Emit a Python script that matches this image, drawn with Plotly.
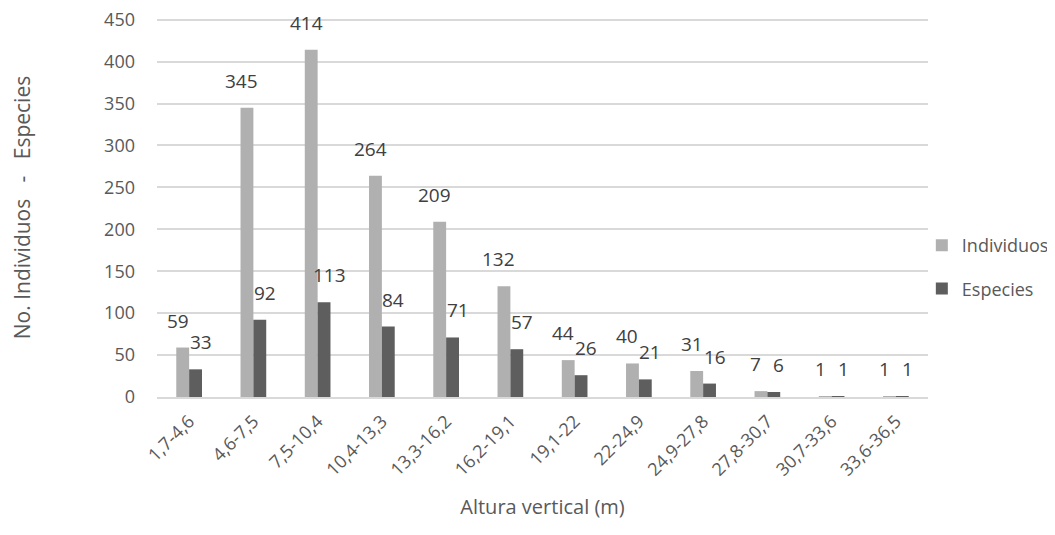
import plotly.graph_objects as go

categories = ["1,7-4,6", "4,6-7,5", "7,5-10,4", "10,4-13,3", "13,3-16,2", "16,2-19,1",
              "19,1-22", "22-24,9", "24,9-27,8", "27,8-30,7", "30,7-33,6", "33,6-36,5"]
individuos = [59, 345, 414, 264, 209, 132, 44, 40, 31, 7, 1, 1]
especies = [33, 92, 113, 84, 71, 57, 26, 21, 16, 6, 1, 1]
y_ticks = [0, 50, 100, 150, 200, 250, 300, 350, 400, 450]

LIGHT = "#B0B0B0"
DARK = "#5E5E5E"
LABEL = "#404040"
AXIS_TXT = "#595959"
GRID = "#D9D9D9"
FONT = "Open Sans, Noto Sans, sans-serif"

fig = go.Figure()
fig.add_trace(go.Bar(x=categories, y=individuos, name="Individuos", offsetgroup="a",
                     marker=dict(color=LIGHT, line=dict(width=0)), legendgroup="a"))
fig.add_trace(go.Bar(x=categories, y=especies, name="Especies", offsetgroup="b",
                     marker=dict(color=DARK, line=dict(width=0)), legendgroup="b"))

# data labels, placed through the axes' own scales (category, value);
# xshift only moves each label toward its own bar inside the category group
annotations = []
for series, xs in ((individuos, -11.5), (especies, 11.5)):
    for cat, val in zip(categories, series):
        annotations.append(dict(
            x=cat, y=val, xref="x", yref="y", text=str(val), showarrow=False,
            xanchor="center", yanchor="bottom", xshift=xs, yshift=12,
            font=dict(family=FONT, size=19, color=LABEL)))

# figure sized so that, with the page's default 8px body margin, it fits the window
fig.update_layout(
    width=1047, height=519,
    margin=dict(l=149, r=127, t=10, b=130, autoexpand=False),
    paper_bgcolor="white", plot_bgcolor="white",
    font=dict(family=FONT, color=AXIS_TXT),
    barmode="group", bargap=0.6, bargroupgap=0,
    showlegend=True,
    annotations=annotations,
    legend=dict(x=0.992, y=0.343, xanchor="left", yanchor="middle",
                font=dict(family=FONT, size=18, color=AXIS_TXT), tracegroupgap=17,
                traceorder="grouped", itemwidth=30, bgcolor="rgba(0,0,0,0)"),
    xaxis=dict(title=dict(text="Altura vertical (m)", font=dict(size=20, color=AXIS_TXT), standoff=20),
               tickangle=-45, tickfont=dict(size=18, color=AXIS_TXT), automargin=False,
               showline=True, linecolor=GRID, linewidth=1.5, showgrid=False, ticks="",
               ticklabelstandoff=5),
    yaxis=dict(title=dict(text="No. Individuos\u00a0\u00a0\u00a0-\u00a0\u00a0\u00a0Especies\u00a0\u00a0\u00a0",
                          font=dict(size=21, color=AXIS_TXT), standoff=75),
               range=[0, 452], tickvals=y_ticks,
               tickfont=dict(size=18, color=AXIS_TXT), automargin=False,
               ticklabeloverflow="allow",
               showgrid=True, gridcolor=GRID, gridwidth=1.5, zeroline=False,
               showline=False, ticks="", ticklabelstandoff=21),
)

fig.write_html("out.html")
